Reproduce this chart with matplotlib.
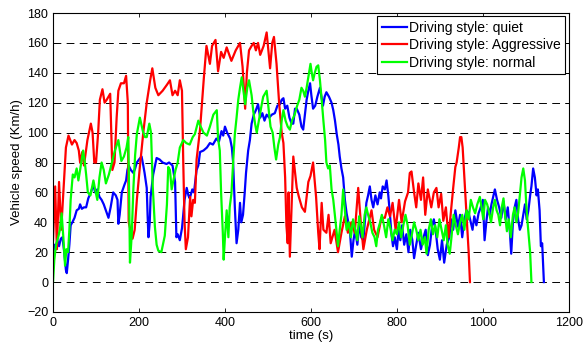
import numpy as np
import matplotlib
matplotlib.use("Agg")
from matplotlib import pyplot as plt

plt.rcParams['font.family'] = ['Liberation Sans', 'DejaVu Sans']

# quiet driving (blue)
t_quiet = [0, 3, 7, 10, 14, 18, 22, 26, 30, 32, 35, 38, 41, 45, 50, 55, 60, 63, 67, 72, 77, 82, 88, 94,
           98, 103, 108, 113, 118, 124, 129, 134, 140, 146, 150, 152, 155, 160, 166, 170, 173, 176, 181,
           187, 191, 195, 200, 206, 210, 213, 218, 220, 222, 225, 227, 233, 241, 248, 255, 264, 270, 278,
           284, 287, 290, 295, 300, 302, 306, 311, 315, 318, 324, 328, 334, 338, 342, 350, 358, 365, 372,
           380, 386, 392, 396, 400, 405, 412, 416, 419, 423, 427, 431, 435, 438, 442, 446, 449, 454, 458,
           462, 467, 472, 477, 482, 487, 492, 497, 503, 509, 516, 522, 528, 532, 536, 540, 545, 550, 555,
           559, 563, 567, 573, 578, 582, 586, 590, 594, 598, 601, 605, 610, 615, 621, 625, 628, 632, 636,
           642, 648, 652, 656, 660, 664, 667, 671, 675, 679, 683, 687, 691, 695, 699, 703, 708, 713, 717,
           722, 726, 729, 733, 737, 741, 745, 750, 755, 760, 763, 767, 772, 776, 780, 784, 787, 791, 795,
           800, 804, 808, 812, 817, 822, 827, 831, 836, 840, 845, 850, 856, 862, 867, 872, 877, 882, 886,
           890, 895, 900, 905, 910, 916, 922, 926, 931, 936, 942, 947, 952, 957, 962, 967, 972, 976, 980,
           985, 990, 995, 1000, 1004, 1008, 1012, 1016, 1020, 1024, 1028, 1033, 1038, 1043, 1048, 1053,
           1058, 1063, 1066, 1070, 1074, 1078, 1082, 1086, 1090, 1094, 1098, 1102, 1106, 1110, 1113, 1117,
           1121, 1125, 1128, 1132, 1135, 1138, 1142]
v_quiet = [18, 25, 22, 28, 24, 29, 30, 20, 8, 6, 15, 25, 38, 40, 43, 48, 49, 52, 49, 50, 50, 56, 60, 65,
           60, 62, 57, 55, 52, 47, 43, 50, 60, 58, 55, 39, 45, 60, 65, 68, 75, 78, 75,
           73, 76, 80, 82, 84, 78, 73, 63, 45, 30, 40, 57, 72, 83, 82, 80, 79, 80, 78,
           67, 30, 32, 28, 36, 42, 55, 63, 58, 56, 62, 60, 75, 78, 87, 88, 90, 93, 92,
           96, 94, 101, 98, 104, 100, 96, 90, 80, 50, 26, 35, 53, 40, 45, 60, 73, 88, 95,
           106, 112, 115, 119, 110, 113, 108, 112, 110, 112, 113, 118, 119, 122, 123, 116, 118, 110, 106,
           106, 116, 116, 112, 104, 102, 112, 122, 128, 133, 125, 116, 118, 124, 130, 123, 118, 124, 127,
           124, 120, 115, 108, 99, 92, 84, 76, 70, 55, 46, 40, 33, 17, 28, 35, 25, 40, 30,
           28, 42, 53, 58, 64, 55, 50, 58, 52, 60, 56, 64, 62, 68, 58, 45, 33, 24, 30,
           22, 35, 28, 38, 25, 32, 20, 35, 28, 16, 25, 33, 22, 30, 35, 18, 25, 38, 42,
           35, 22, 15, 28, 13, 25, 30, 42, 35, 48, 37, 45, 30, 42, 48, 46, 40, 35, 44,
           38, 46, 50, 55, 28, 40, 50, 45, 52, 57, 62, 55, 50, 43, 54, 42,
           50, 33, 19, 40, 50, 55, 42, 35, 38, 45, 52, 42, 48, 58, 64, 76,
           70, 58, 62, 48, 24, 26, 0]

# aggressive driving (red)
t_aggr = [0, 5, 9, 14, 19, 24, 30, 36, 44, 50, 55, 60, 63, 68, 72, 80, 88, 92, 96, 100, 105, 109, 115,
          120, 125, 133, 138, 143, 148, 152, 158, 165, 170, 174, 176, 180, 185, 190, 195, 202, 210, 218,
          226, 231, 238, 245, 255, 265, 272, 278, 284, 290, 295, 300, 303, 306, 309, 314, 319, 322, 326,
          330, 334, 342, 351, 357, 365, 370, 378, 384, 391, 397, 404, 410, 415, 425, 435, 441, 447, 451,
          456, 462, 467, 472, 477, 482, 490, 497, 505, 510, 514, 520, 526, 532, 536, 540, 543, 546, 548,
          551, 555, 559, 567, 572, 579, 586, 594, 599, 605, 612, 617, 620, 625, 629, 636, 641, 646, 655,
          663, 671, 679, 686, 694, 702, 710, 716, 722, 730, 741, 747, 755, 764, 772, 778, 784, 790, 797,
          805, 811, 819, 826, 830, 834, 840, 845, 850, 856, 861, 866, 872, 880, 886, 892, 897, 903, 908,
          914, 920, 925, 931, 936, 939, 944, 947, 950, 953, 957, 961, 964, 967, 970]
v_aggr = [28, 64, 22, 67, 35, 60, 90, 98, 92, 95, 93, 88, 80, 87, 78, 95, 106, 100, 80, 80, 100, 122, 129,
          120, 122, 126, 75, 80, 110, 128, 133, 133, 138, 120, 40, 35, 29, 35, 55, 77, 100, 120,
          135, 143, 130, 125, 128, 132, 135, 125, 128, 125, 135, 128, 80, 40, 22, 30, 57, 44, 55,
          53, 82, 102, 137, 158, 146, 158, 162, 141, 154, 150, 157, 152, 148, 155, 160, 144, 116, 140,
          155, 158, 160, 155, 160, 152, 158, 167, 143, 160, 164, 146, 120, 100, 93, 70, 38, 26, 60,
          17, 50, 84, 63, 57, 50, 47, 67, 71, 80, 57, 33, 22, 53, 35, 33, 45, 26, 35,
          20, 33, 44, 33, 40, 33, 63, 40, 22, 35, 48, 35, 30, 43, 43, 50, 44, 53, 35,
          55, 40, 54, 60, 73, 74, 60, 50, 66, 55, 70, 45, 62, 50, 60, 63, 50, 59, 41,
          50, 30, 45, 63, 77, 80, 90, 97, 97, 90, 70, 50, 35, 20, 0]

# normal driving (green)
t_norm = [0, 3, 7, 12, 16, 20, 24, 28, 31, 35, 38, 41, 46, 50, 55, 59, 63, 70, 74, 77, 81, 87, 94, 98,
          103, 108, 113, 118, 123, 130, 137, 144, 152, 159, 165, 171, 175, 177, 179, 183, 187, 191, 195,
          202, 209, 214, 218, 224, 228, 232, 237, 241, 245, 252, 260, 265, 268, 272, 276, 280, 285, 290,
          295, 303, 310, 318, 325, 330, 338, 342, 350, 358, 365, 373, 381, 384, 388, 391, 395, 397, 400,
          404, 408, 411, 415, 419, 423, 427, 431, 435, 439, 443, 447, 452, 456, 462, 466, 470, 474, 480,
          485, 489, 493, 497, 502, 506, 511, 515, 519, 524, 528, 532, 536, 541, 546, 551, 556, 562, 568,
          573, 578, 582, 586, 590, 594, 599, 602, 605, 609, 613, 617, 621, 625, 629, 633, 636, 640, 644,
          648, 652, 656, 660, 663, 667, 671, 675, 679, 683, 688, 693, 698, 703, 708, 712, 716, 720, 725,
          729, 733, 738, 743, 748, 752, 756, 761, 765, 770, 775, 780, 785, 790, 795, 800, 805, 810, 815,
          820, 825, 830, 835, 840, 845, 850, 855, 860, 865, 869, 874, 879, 884, 889, 894, 899, 904, 909,
          914, 918, 923, 927, 932, 937, 942, 947, 952, 957, 962, 967, 972, 977, 982, 987, 993, 997, 1001,
          1005, 1010, 1015, 1019, 1024, 1028, 1032, 1036, 1040, 1044, 1048, 1052, 1056, 1060, 1065, 1070,
          1074, 1078, 1082, 1086, 1090, 1094, 1098, 1101, 1104, 1107, 1110, 1113]
v_norm = [0, 15, 25, 30, 35, 46, 30, 11, 22, 20, 35, 55, 72, 70, 76, 68, 75, 88, 80, 72, 60, 58, 68, 62,
          55, 70, 80, 75, 66, 72, 80, 88, 95, 81, 84, 90, 97, 60, 13, 31, 63, 85, 99,
          110, 101, 97, 97, 106, 100, 64, 37, 25, 21, 20, 31, 52, 77, 75, 62, 68, 75, 80,
          90, 95, 93, 92, 97, 99, 108, 105, 100, 98, 104, 112, 115, 96, 88, 60, 33, 15, 30,
          48, 30, 50, 59, 80, 99, 110, 122, 130, 137, 128, 119, 130, 135, 125, 114, 106, 100, 110,
          118, 124, 126, 128, 115, 104, 100, 90, 82, 92, 97, 108, 115, 108, 104, 102, 108, 112, 118,
          122, 130, 128, 124, 130, 137, 146, 140, 135, 140, 144, 145, 135, 122, 108, 95, 80, 76, 78,
          62, 55, 44, 33, 24, 35, 45, 62, 48, 35, 40, 30, 42, 35, 28, 44, 38, 30, 45,
          50, 45, 40, 33, 30, 24, 35, 40, 45, 38, 30, 42, 36, 28, 35, 32, 40, 30, 38,
          45, 38, 25, 32, 40, 35, 28, 35, 25, 30, 19, 35, 42, 32, 38, 30, 42, 35, 28,
          38, 25, 19, 30, 45, 38, 32, 40, 45, 35, 48, 42, 55, 50, 46, 52, 57, 50, 42,
          55, 52, 46, 40, 50, 55, 48, 45, 38, 50, 56, 44, 34, 42, 30, 45,
          50, 40, 46, 58, 70, 76, 68, 52, 40, 30, 20, 0]

fig = plt.figure(figsize=(5.84, 3.47), dpi=100)
ax = fig.add_axes([0.0908, 0.1009, 0.8832, 0.8616])

ax.plot(t_quiet, v_quiet, color=(0, 0, 1), lw=1.6, label='Driving style: quiet')
ax.plot(t_aggr, v_aggr, color=(1, 0, 0), lw=1.6, label='Driving style: Aggressive')
ax.plot(t_norm, v_norm, color=(0, 1, 0), lw=1.6, label='Driving style: normal')

ax.set_xlim(0, 1200)
ax.set_ylim(-20, 180)
ax.set_xticks(np.arange(0, 1201, 200))
ax.set_yticks(np.arange(-20, 181, 20))
ax.tick_params(direction='in', top=True, right=True, labelsize=9, length=3, width=0.6)
ax.yaxis.grid(True, color='k', linestyle=(0, (8, 5.5)), linewidth=0.7)
for s in ax.spines.values():
    s.set_linewidth(0.8)

ax.set_xlabel('time (s)', fontsize=9.5, labelpad=1)
ax.set_ylabel('Vehicle speed (Km/h)', fontsize=9.5, labelpad=3)

leg = ax.legend(loc='upper right', fontsize=10, fancybox=False, framealpha=1,
                edgecolor='k', borderaxespad=0.25, handlelength=1.8, handletextpad=0.2,
                labelspacing=0.25, borderpad=0.3)
leg.get_frame().set_linewidth(0.8)

fig.savefig('out.png', dpi=100)
